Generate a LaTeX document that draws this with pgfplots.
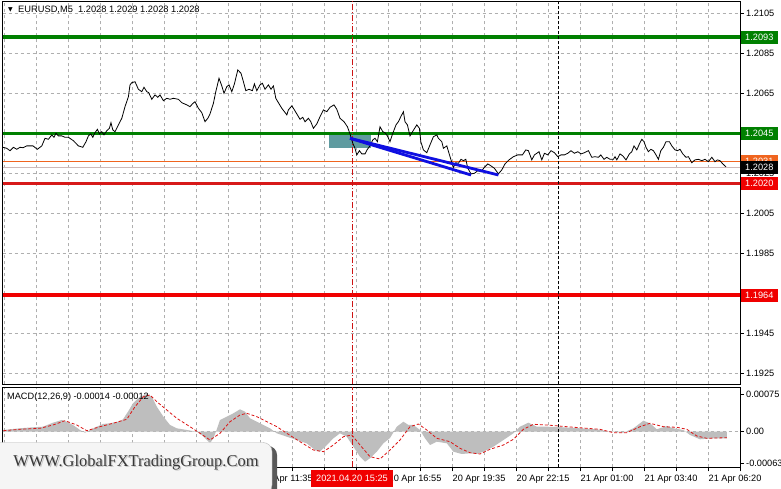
\documentclass[border=0pt]{standalone}
\usepackage{pgfplots}
\usepackage{pgfplotstable}
\pgfplotsset{compat=1.18}
\usepackage{fontspec}
\setmainfont{Liberation Sans}
\newfontfamily\wmfont{Liberation Serif}
\newfontfamily\symfont{DejaVu Sans}
\definecolor{lvlgreen}{RGB}{0,128,0}
\definecolor{lvlred}{RGB}{240,0,0}
\definecolor{lvlred2}{RGB}{215,25,25}
\definecolor{orangeln}{RGB}{240,100,30}
\definecolor{bidln}{RGB}{205,185,185}
\definecolor{gridc}{RGB}{175,175,175}
\definecolor{teal1}{RGB}{95,155,160}
\definecolor{tlblue}{RGB}{15,15,225}
\definecolor{histg}{RGB}{190,190,190}
\definecolor{sigred}{RGB}{220,20,20}
\definecolor{vred}{RGB}{205,20,20}

\pgfplotstableread{
bar price
10.4 1.20381
12.4 1.20376
14 1.20364
15.7 1.20381
17.4 1.20371
19 1.20381
20.5 1.20379
22.4 1.20388
24 1.20388
25.5 1.20388
27.7 1.20371
29.9 1.20388
31.5 1.20426
33.2 1.20421
34.9 1.20443
36 1.20431
37 1.20451
38.2 1.20438
39.9 1.20438
41.5 1.20431
43.2 1.20431
45.7 1.20414
48.2 1.20388
50.4 1.20381
52 1.20409
53.2 1.20438
54.4 1.20448
55.4 1.20431
56.5 1.20454
57.7 1.20471
58.7 1.20448
59.9 1.20459
61 1.20443
62.4 1.20464
63.7 1.20476
64.5 1.20504
65.4 1.20468
66.5 1.20459
68.2 1.20493
69.9 1.20526
71.5 1.20584
73.2 1.20634
74 1.20693
74.9 1.20704
76.5 1.20709
78.2 1.20671
79.9 1.20659
81 1.20681
82.4 1.20659
83.3 1.20655
84.9 1.20621
86.5 1.20643
87.9 1.20631
89 1.20643
90.7 1.20614
92.4 1.20626
94 1.20621
95.7 1.20626
98.2 1.20621
99.9 1.20604
102.4 1.20593
104 1.20584
105.2 1.20598
106.5 1.20609
108.2 1.20576
109.9 1.20554
111.5 1.20509
112.9 1.20526
114 1.20548
115.7 1.20601
116.9 1.20659
118.5 1.20726
119.9 1.20688
121 1.20651
122.4 1.20684
123.5 1.20693
124.9 1.20659
126.2 1.20698
127.9 1.20768
129.5 1.20751
130.7 1.20709
131.9 1.20664
133.5 1.20671
135.2 1.20664
136.2 1.20698
137.4 1.20664
139 1.20693
140.2 1.20701
141.5 1.20671
143.2 1.20693
144.5 1.20671
145.7 1.20688
146.9 1.20626
148.2 1.20604
149.9 1.20576
151.2 1.20559
152.4 1.20543
153.2 1.20568
154.9 1.20588
155.7 1.20576
157.4 1.20548
159 1.20521
160.4 1.20531
161.5 1.20509
163.2 1.20526
164.4 1.20509
165.7 1.20476
167.4 1.20498
169 1.20534
170.7 1.20568
172.4 1.20559
174 1.20581
176 1.20593
177.4 1.20571
179 1.20526
181 1.20509
182.7 1.20484
184 1.20448
185.4 1.20401
186.5 1.20376
187.4 1.20343
188.7 1.20364
189.9 1.20348
191.5 1.20348
192.7 1.20371
194 1.20388
195.4 1.20418
196.5 1.20426
197.7 1.20409
199 1.20484
200.4 1.20459
201.5 1.20454
202.7 1.20438
204 1.20409
205.4 1.20451
207 1.20493
208.2 1.20509
209.4 1.20534
210.7 1.20559
211.5 1.20509
212.7 1.20493
214 1.20438
216 1.20471
217.4 1.20493
218.7 1.20476
219.4 1.20409
220.7 1.20368
222.4 1.20354
224 1.20393
225.7 1.20434
227.4 1.20443
228.2 1.20426
229.9 1.20409
230.7 1.20376
232.4 1.20388
233.5 1.20351
234.5 1.20318
235.7 1.20281
236.9 1.20304
238.2 1.20301
239.5 1.20321
240.7 1.20314
241.9 1.20321
242.9 1.20276
244.5 1.20248
246.2 1.20251
247.9 1.20264
249.5 1.20259
251.2 1.20281
252.9 1.20298
254.5 1.20288
256.2 1.20276
258.2 1.20248
259.9 1.20268
261.5 1.20298
263.5 1.20318
265.7 1.20334
267.9 1.20343
270.2 1.20343
271.9 1.20368
273.2 1.20364
274.9 1.20318
276.2 1.20343
277.4 1.20351
278.5 1.20359
279.9 1.20318
281.2 1.20351
282.9 1.20343
284.5 1.20364
286.2 1.20354
287.9 1.20334
289.5 1.20343
291.2 1.20343
292.9 1.20351
294.5 1.20364
296.2 1.20351
297.9 1.20359
299.5 1.20348
301.2 1.20354
303.2 1.20364
304.9 1.20331
306.5 1.20334
308.2 1.20331
309.4 1.20343
311 1.20321
312.4 1.20331
314 1.20321
315.7 1.20321
316.5 1.20334
317.4 1.20318
319 1.20348
320.4 1.20338
322 1.20318
323.7 1.20348
324.9 1.20359
326 1.20388
327.4 1.20368
328.7 1.20398
329.9 1.20421
331 1.20409
332 1.20381
333.2 1.20359
334.4 1.20371
335.7 1.20364
337 1.20343
338.2 1.20321
339.4 1.20364
340.7 1.20381
342 1.20409
343.7 1.20409
344.9 1.20388
346.5 1.20368
347.7 1.20364
349 1.20371
350.4 1.20348
352 1.20331
353.2 1.20334
354.9 1.20304
356.5 1.20318
358.2 1.20321
359.9 1.20314
361.5 1.20321
363.2 1.20309
364.9 1.20331
366.5 1.20309
367.7 1.20318
369 1.20314
370.4 1.20298
372 1.20283
}\pricetab

\pgfplotstableread{
bar val
10.4 0
10.7 0.000034
19 0.000068
25.5 0.000088
30.5 0.0001
35.5 0.00018
39.9 0.000234
42.4 0.0002
45.5 0.000134
49 0.000034
51.5 -0.00002
54 0.000034
57.4 0.0001
60.5 0.000154
64 0.000168
68 0.0002
70.5 0.000248
73 0.0004
75.5 0.000568
79 0.0007
82.4 0.000754
84.9 0.0007
87.4 0.0005
90.7 0.0003
94 0.000134
97.4 0.000068
102.4 0.000034
107.4 0
109.9 -0.000066
112.4 -0.000166
114 -0.000232
115.7 -0.000132
117.4 0.000048
119 0.000234
122.4 0.0003
125.7 0.000368
129 0.000448
131.5 0.0004
134 0.000268
137.4 0.0002
140.7 0.000134
144 0.000068
147.4 -0.000032
152.4 -0.0001
157.4 -0.000166
162.4 -0.000234
166.5 -0.000366
169 -0.0004
172.4 -0.000266
175.7 -0.000132
179 -0.000032
182.4 -0.0001
185.7 -0.0003
189 -0.0005
191.5 -0.0006
194 -0.000532
197.4 -0.0004
200.7 -0.000232
204 -0.000126
207.4 0.0001
210.7 0.0002
213.2 0.000134
215.7 0.000134
219 0.000034
221.5 -0.000132
224 -0.000266
227.4 -0.0002
232.4 -0.000232
235.7 -0.0004
239.9 -0.000446
244 -0.000432
247.4 -0.000446
250.7 -0.0004
255.7 -0.0003
260.7 -0.000166
265.7 -0.000032
269 0.0001
273.2 0.00018
277.4 0.0001
282.4 0.0001
290.7 0.000088
299 0.000068
307.4 0.000048
314 0
320.7 -0.00002
325.7 0.000068
330.7 0.00022
334 0.000168
337.4 0.000048
342.4 0.000114
345.7 0.000068
350.7 0.000034
354 -0.000066
359 -0.000152
365.7 -0.000132
372.4 -0.000132
372.4 0
}\histtab

\pgfplotstableread{
bar val
10.7 0.00002
19 0.000048
29 0.000068
35.5 0.000134
41.5 0.00022
47.4 0.000134
52.4 0.00002
59 0.0001
65.5 0.000168
72.4 0.000248
76.5 0.0005
80.7 0.0007
84 0.000734
87.4 0.0006
92.4 0.000434
97.4 0.000268
104 0.0001
109 -0.000032
114 -0.000166
119 -0.000032
124 0.0002
129 0.000334
132.4 0.000368
137.4 0.0003
142.4 0.0002
147.4 0.0001
152.4 -0.000032
159 -0.0002
165.7 -0.000366
170.7 -0.0004
175.7 -0.000266
180.7 -0.0001
184.9 -0.000066
189 -0.000266
194 -0.0005
199 -0.000546
204 -0.000366
209 -0.000166
214 0.0001
218.2 0.000154
222.4 0.000034
227.4 -0.000132
234 -0.0002
239 -0.000332
244 -0.00042
249 -0.000446
254 -0.000352
260.7 -0.000266
265.7 -0.000152
270.7 0.000048
275.7 0.000148
282.4 0.000134
292.4 0.0001
302.4 0.000068
309 0.000048
315.7 -0.00002
322.4 -0.00002
329 0.0001
334 0.000168
340.7 0.0001
347.4 0.000088
352.4 0.000048
357.4 -0.000086
362.4 -0.000132
372.4 -0.00012
}\sigtab

\begin{document}
\begin{tikzpicture}[x=1pt,y=1pt]
\useasboundingbox (0,0) rectangle (781,489);
\fill[white] (0,0) rectangle (781,489);
\pgfplotsset{
  mtframe/.style={
    scale only axis, anchor=south west,
    width=737.5pt, xmin=10.25, xmax=379,
    axis line style={line width=0.8pt, black},
    grid style={gridc, dash pattern=on 3pt off 3pt, line width=0.7pt},
    tick align=outside, major tick length=4pt,
    tick style={black, line width=0.6pt},
    ytick pos=right, yticklabel pos=right,
    scaled y ticks=false, scaled x ticks=false,
    /pgf/number format/assume math mode=true,
    yticklabel style={font=\fontsize{9.2}{10}\selectfont, anchor=west, inner sep=0pt, xshift=2pt},
    xmajorgrids,
  }
}
% ---------- main price panel ----------
\begin{axis}[mtframe,
  at={(2.5pt,104.5pt)}, height=383pt,
  ymin=1.19195, ymax=1.2111,
  xtick={11,27,...,379}, xticklabel=\empty, xtick style={draw=none},
  ytick={1.1925,1.1945,1.1965,1.1985,1.2005,1.2025,1.2045,1.2065,1.2085,1.2105},
  yticklabels={1.1925,1.1945,,1.1985,1.2005,1.2025,,1.2065,1.2085,1.2105},
  ymajorgrids,
]
\addplot[draw=none, fill=teal1] coordinates {(173.7,1.20443) (194.3,1.20443) (194.3,1.20376) (173.7,1.20376)};
\addplot[lvlgreen, line width=4pt] coordinates {(10.25,1.2093) (379,1.2093)};
\addplot[lvlgreen, line width=2.2pt] coordinates {(10.25,1.2045) (379,1.2045)};
\addplot[orangeln, line width=1pt] coordinates {(10.25,1.2031) (379,1.2031)};
\addplot[bidln, line width=1pt] coordinates {(10.25,1.2028) (379,1.2028)};
\addplot[lvlred2, line width=2.5pt] coordinates {(10.25,1.2020) (379,1.2020)};
\addplot[lvlred, line width=4pt] coordinates {(10.25,1.1964) (379,1.1964)};
\addplot[vred, line width=0.9pt, dash pattern=on 6pt off 2pt on 1pt off 2pt] coordinates {(185,1.19195) (185,1.2111)};
\addplot[black, line width=0.8pt, dash pattern=on 3pt off 2pt] coordinates {(288,1.19195) (288,1.2111)};
\addplot[black, line width=0.8pt] table[x=bar, y=price] {\pricetab};
\addplot[tlblue, line width=2.8pt] coordinates {(184,1.20426) (244.5,1.202425)};
\addplot[tlblue, line width=2.8pt] coordinates {(184,1.20426) (258.2,1.202425)};
\coordinate (c2093) at (axis cs:379,1.2093);
\coordinate (c2045) at (axis cs:379,1.2045);
\coordinate (c2031) at (axis cs:379,1.2031);
\coordinate (c2028) at (axis cs:379,1.2028);
\coordinate (c2020) at (axis cs:379,1.2020);
\coordinate (c1964) at (axis cs:379,1.1964);
\end{axis}
% ---------- MACD panel ----------
\begin{axis}[mtframe,
  at={(2.5pt,21.5pt)}, height=80pt,
  ymin=-0.000716, ymax=0.000884,
  xtick={11,27,...,379},
  xticklabels={20 Apr 00:55,,20 Apr 03:35,,20 Apr 06:15,,20 Apr 08:55,,20 Apr 11:35,,,,20 Apr 16:55,,20 Apr 19:35,,20 Apr 22:15,,21 Apr 01:00,,21 Apr 03:40,,21 Apr 06:20,},
  xtick pos=bottom,
  xticklabel style={font=\fontsize{9.2}{10}\selectfont, anchor=north west, inner sep=0pt, xshift=0.5pt, yshift=-3pt},
  ytick={0}, yticklabels={0.00}, ymajorgrids,
  extra y ticks={-0.00063,0.00075}, extra y tick labels={-0.00063,0.00075},
  extra y tick style={grid=none},
]
\addplot[fill=histg, draw=none] table[x=bar, y=val] {\histtab};
\addplot[sigred, line width=0.8pt, dash pattern=on 3pt off 2pt] table[x=bar, y=val] {\sigtab};
\addplot[vred, line width=0.9pt, dash pattern=on 6pt off 2pt on 1pt off 2pt] coordinates {(185,-0.000716) (185,0.000884)};
\addplot[black, line width=0.8pt, dash pattern=on 3pt off 2pt] coordinates {(288,-0.000716) (288,0.000884)};
\coordinate (redx) at (axis cs:185,-0.000716);
\end{axis}
% ---------- price labels on the right ----------
\tikzset{lbl/.style={anchor=west, inner sep=0pt, minimum width=37pt, minimum height=13pt, text=white, font=\fontsize{9.2}{10}\selectfont}}
\node[lbl, fill=lvlgreen] at ([xshift=0.6pt]c2093) {1.2093};
\node[lbl, fill=lvlgreen] at ([xshift=0.6pt]c2045) {1.2045};
\node[lbl, fill=orangeln] at ([xshift=0.6pt]c2031) {1.2031};
\node[lbl, fill=black] at ([xshift=0.6pt]c2028) {1.2028};
\node[lbl, fill=lvlred] at ([xshift=0.6pt]c2020) {1.2020};
\node[lbl, fill=lvlred] at ([xshift=0.6pt]c1964) {1.1964};
% ---------- date label of the vertical line ----------
\node[anchor=north, fill=lvlred, text=white, inner xsep=5pt, inner ysep=0pt, minimum height=17pt, font=\fontsize{9.2}{10}\selectfont] at ([yshift=-2.5pt]redx) {2021.04.20 15:25};
% ---------- titles ----------
\node[anchor=center, inner sep=0pt, font=\symfont\fontsize{6}{6}\selectfont] at (10.5,479.5) {▼};
\node[anchor=west, inner sep=0pt, font=\fontsize{9.3}{10}\selectfont] at (18,479) {EURUSD,M5\ \ 1.2028 1.2029 1.2028 1.2028};
\node[anchor=west, inner sep=0pt, font=\fontsize{9.2}{10}\selectfont] at (7,92) {MACD(12,26,9) -0.00014 -0.00012};
% ---------- watermark ----------
\fill[black!65, rounded corners=9pt] (-10,-10) rectangle (277,43);
\fill[gray!8, draw=gray!55, rounded corners=9pt] (-10,-5) rectangle (272,46.5);
\node[font=\wmfont\fontsize{16.5}{18}\selectfont, text=gray!45] at (137.3,25.6) {WWW.GlobalFXTradingGroup.Com};
\node[font=\wmfont\fontsize{16.5}{18}\selectfont, text=black!78] at (136,26.8) {WWW.GlobalFXTradingGroup.Com};
\end{tikzpicture}
\end{document}
